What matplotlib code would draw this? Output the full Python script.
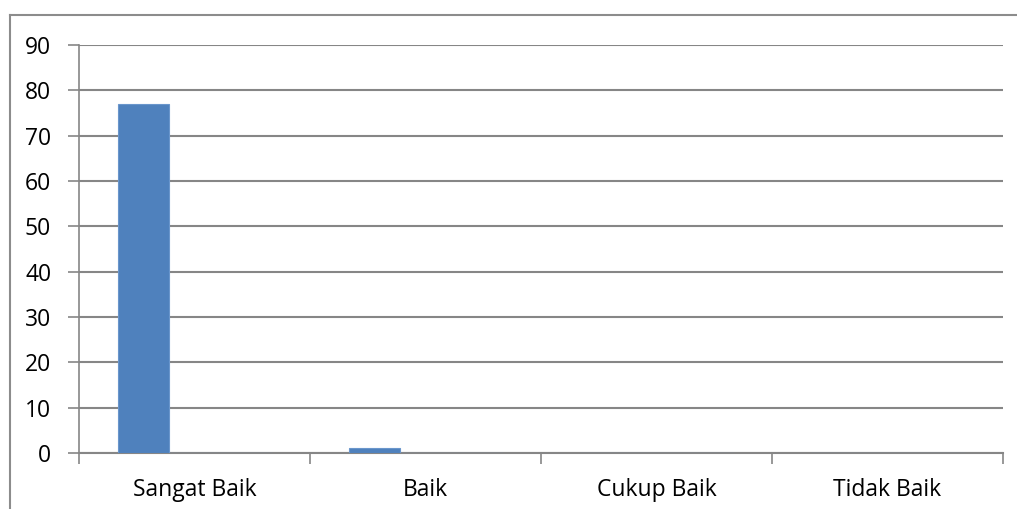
import numpy as np
import matplotlib.pyplot as plt
from matplotlib.lines import Line2D

categories = ['Sangat Baik', 'Baik', 'Cukup Baik', 'Tidak Baik']
series1 = [77, 1, 0, 0]
series2 = [0, 0, 0, 0]
series3 = [0, 0, 0, 0]
yticks = [0, 10, 20, 30, 40, 50, 60, 70, 80, 90]

plt.rcParams['font.family'] = ['Open Sans', 'DejaVu Sans']

fig = plt.figure(figsize=(10.17, 5.09), dpi=100)
ax = fig.add_axes([79 / 1017, 1 - 453 / 509, (1003 - 79) / 1017, (453 - 45) / 509])

# Excel clustered column: 3 series, gap width 150%
w = 1 / 4.5
x = np.arange(len(categories))
for k, vals in enumerate([series1, series2, series3]):
    ax.bar(x + (k - 1) * w, vals, width=w, color='#4F81BD',
           edgecolor='#6A96CC', linewidth=0.8, zorder=3)

ax.set_xlim(-0.5, len(categories) - 0.5)
ax.set_ylim(0, 90)
ax.set_yticks(yticks)
ax.set_yticklabels([str(t) for t in yticks], fontsize=16.5)

grid_col = '#868686'
for t in yticks:
    ax.axhline(t, color=grid_col, linewidth=1.5, zorder=1)

ax.set_xticks(np.arange(-0.5, len(categories), 1.0))
ax.set_xticklabels([])
ax.set_xticks(x, minor=True)
ax.set_xticklabels(categories, minor=True, fontsize=16.5)
ax.tick_params(axis='x', which='major', length=8, width=1.2, color=grid_col, direction='out')
ax.tick_params(axis='x', which='minor', length=0, pad=18)
ax.tick_params(axis='y', length=8, width=1.2, color=grid_col, pad=12)

for s in ['top', 'right']:
    ax.spines[s].set_visible(False)
ax.spines['left'].set_color(grid_col)
ax.spines['left'].set_linewidth(1.2)
ax.spines['bottom'].set_color(grid_col)
ax.spines['bottom'].set_linewidth(1.5)

# outer chart frame (only left and top visible in the crop)
fig.add_artist(Line2D([10 / 1017, 10 / 1017], [0, 1 - 15 / 509], color='#8C8C8C', linewidth=1.5))
fig.add_artist(Line2D([10 / 1017, 1], [1 - 15 / 509, 1 - 15 / 509], color='#8C8C8C', linewidth=1.5))

fig.savefig('out.png', dpi=100)
